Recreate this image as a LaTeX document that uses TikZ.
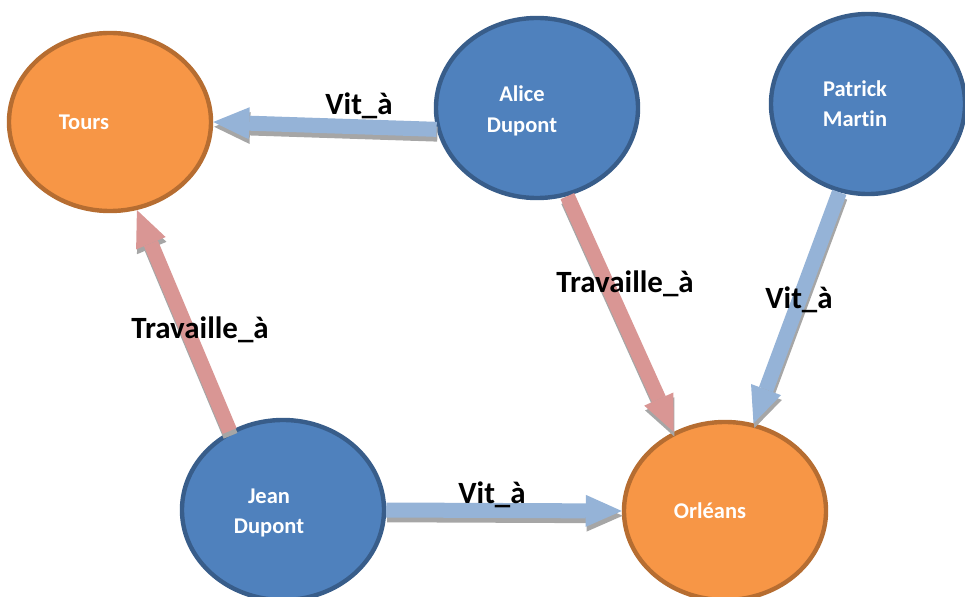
\documentclass[tikz,border=0pt]{standalone}
\usepackage{fontspec}
\setmainfont{Carlito}[Ligatures=NoCommon]
\usepackage{xcolor}
\usetikzlibrary{shapes.geometric, arrows.meta}

\definecolor{cityfill}{HTML}{F79646}
\definecolor{cityline}{HTML}{B66D31}
\definecolor{personfill}{HTML}{4F81BD}
\definecolor{personline}{HTML}{385D8A}
\definecolor{vitblue}{HTML}{95B3D7}
\definecolor{travred}{HTML}{D99694}
\definecolor{shadowgray}{HTML}{A6A6A6}

\begin{document}
\begin{tikzpicture}[
    x=0.025cm, y=-0.025cm,
    city/.style={ellipse, draw=cityline, fill=cityfill, line width=0.11cm, inner sep=0pt, minimum width=5.05cm, minimum height=4.45cm},
    person/.style={ellipse, draw=personline, fill=personfill, line width=0.11cm, inner sep=0pt, minimum width=5.05cm, minimum height=4.5cm},
    ntext/.style={text=white, align=center, font=\bfseries\fontsize{16}{21.5}\selectfont},
    elabel/.style={anchor=base, font=\bfseries\fontsize{22}{26}\selectfont},
    block/.style={line width=0.375cm, -{Triangle[length=0.9cm, width=0.8cm, line width=0pt]}},
    shadowline/.style={block, draw=shadowgray, transform canvas={xshift=0.6pt, yshift=-3.4pt}},
    vit/.style={block, draw=vitblue},
    trav/.style={block, draw=travred},
  ]
  \useasboundingbox (0,0) rectangle (965,597);

  % Places
  \node[city, label={[ntext, xshift=-0.65cm]center:Tours}] (tours) at (110,122) {};
  \node[city, label={[ntext, xshift=-0.375cm]center:Orléans}] (orleans) at (725,511) {};

  % People
  \node[person, label={[ntext, xshift=-0.375cm, yshift=-2pt]center:{Alice\\Dupont}}] (alice) at (537,108) {};
  \node[person, minimum width=4.85cm, label={[ntext, xshift=-0.325cm]center:{Patrick\\Martin}}] (patrick) at (868,104) {};
  \node[person, label={[ntext, xshift=-0.35cm, yshift=-2pt]center:{Jean\\Dupont}}] (jean) at (283,510) {};

  % Relations - shadow first, then arrow
  \draw[shadowline] (alice.192) -- (tours.east);
  \draw[vit] (alice.192) -- (tours.east);

  \draw[shadowline] (jean.124) -- (tours.287);
  \draw[trav] (jean.124) -- (tours.287);

  \draw[shadowline] (jean.east) -- (orleans.west);
  \draw[vit] (jean.east) -- (orleans.west);

  \draw[shadowline] (alice.289) -- (orleans.123);
  \draw[trav] (alice.289) -- (orleans.123);

  \draw[shadowline] (patrick.252) -- (orleans.72);
  \draw[vit] (patrick.252) -- (orleans.72);

  % Relation labels
  \node[elabel] (vit-alice) at (359,115) {Vit\_à};
  \node[elabel] (trav-jean) at (200,338) {Travaille\_à};
  \node[elabel] (vit-jean) at (492,503) {Vit\_à};
  \node[elabel] (trav-alice) at (625,292) {Travaille\_à};
  \node[elabel] (vit-patrick) at (799,308) {Vit\_à};

\end{tikzpicture}
\end{document}
